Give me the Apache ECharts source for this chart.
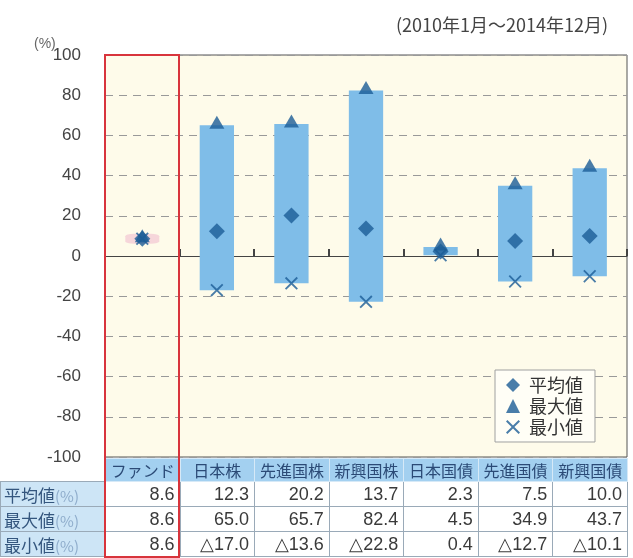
<!DOCTYPE html>
<html>
<head>
<meta charset="utf-8">
<script src="https://cdn.jsdelivr.net/npm/echarts@6/dist/echarts.min.js"></script>
<style>
  body { margin: 0; background: #fff; }
  #wrap { position: relative; width: 633px; height: 558px; }
  #chart { position: absolute; left: 0; top: 0; width: 633px; height: 558px; }
  #tbl { position: absolute; left: 0; top: 458px; width: 627px; border-collapse: collapse; table-layout: fixed;
         font-family: "Noto Sans CJK JP", sans-serif; }
  #tbl td { padding: 0; overflow: hidden; white-space: nowrap; line-height: 1; }
  #tbl tr.head td { height: 22px; background: #a3d0f0; color: #2b4a76; font-size: 16px; text-align: center; border: 1px solid #d6e9f7; }
  #tbl tr.head td.blank { background: transparent; border: none; }
  #tbl tr.row td { height: 24px; }
  #tbl td.lbl { background: #cde5f6; color: #34567e; font-size: 17px; padding-left: 3px; border: 1px solid #9aaab8; }
  #tbl td.lbl span { color: #8eaccb; font-size: 15px; }
  #tbl td.val { background: #fff; color: #3a3a3a; font-size: 18px; text-align: right; padding-right: 5px;
                font-family: "Liberation Sans", sans-serif; border: 1px solid #9aaab8; }
  #redbox { position: absolute; left: 104px; top: 54px; width: 72px; height: 500px; border: 2px solid #d8343c; pointer-events: none; }
</style>
</head>
<body>
<div id="wrap">
  <div id="chart"></div>
  <table id="tbl"></table>
  <div id="redbox"></div>
</div>
<script>
const categories = ['ファンド', '日本株', '先進国株', '新興国株', '日本国債', '先進国債', '新興国債'];
const avgValues = [8.6, 12.3, 20.2, 13.7, 2.3, 7.5, 10.0];
const maxValues = [8.6, 65.0, 65.7, 82.4, 4.5, 34.9, 43.7];
const minValues = [8.6, -17.0, -13.6, -22.8, 0.4, -12.7, -10.1];
const rowNames = ['平均値', '最大値', '最小値'];

const markColor = '#1c5c96';
const xPath = 'path://M0,2 L2,0 L10,8 L18,0 L20,2 L12,10 L20,18 L18,20 L10,12 L2,20 L0,18 L8,10 Z';

const fmt = (v) => v < 0 ? '△' + Math.abs(v).toFixed(1) : v.toFixed(1);

// table under the chart
let html = '<colgroup><col style="width:105px">' + categories.map(() => '<col style="width:74.57px">').join('') + '</colgroup>';
html += '<tr class="head"><td class="blank"></td>' + categories.map(c => '<td>' + c + '</td>').join('') + '</tr>';
[avgValues, maxValues, minValues].forEach((arr, r) => {
  html += '<tr class="row"><td class="lbl">' + rowNames[r] + '<span>(%)</span></td>' + arr.map(v => '<td class="val">' + fmt(v) + '</td>').join('') + '</tr>';
});
document.getElementById('tbl').innerHTML = html;

let chart = echarts.init(document.getElementById('chart'));

let option = {
  animation: false,
  title: {
    text: '(2010年1月～2014年12月)',
    right: 20,
    top: 11,
    textStyle: { fontSize: 18, fontWeight: 'normal', color: '#444', fontFamily: 'Noto Sans CJK JP' }
  },
  graphic: [{
    type: 'text', left: 34, top: 37,
    style: { text: '(%)', fontSize: 14, fill: '#666', fontFamily: 'Liberation Sans' }
  }],
  legend: {
    data: ['平均値', '最大値', '最小値'],
    orient: 'vertical',
    left: 495,
    top: 370,
    padding: [6, 12, 6, 11],
    itemGap: 3,
    itemWidth: 14,
    itemHeight: 14,
    backgroundColor: '#fffef6',
    borderColor: '#a0a0a0',
    borderWidth: 1,
    textStyle: { fontSize: 18, color: '#333', fontFamily: 'Noto Sans CJK JP', padding: [0, 0, 0, 4] }
  },
  grid: {
    left: 105,
    right: 6,
    top: 55,
    height: 402,
    show: true,
    backgroundColor: '#fefbea',
    borderColor: '#555',
    borderWidth: 1
  },
  xAxis: {
    type: 'category',
    data: categories,
    axisLine: { onZero: true, lineStyle: { color: '#444', width: 1 } },
    axisTick: { show: true, inside: true, length: 7, lineStyle: { color: '#444', width: 2 } },
    axisLabel: { show: false }
  },
  yAxis: {
    type: 'value',
    min: -100,
    max: 100,
    interval: 20,
    axisLine: { show: false },
    axisTick: { show: false },
    axisLabel: { fontSize: 17, color: '#444', margin: 24, fontFamily: 'Liberation Sans' },
    splitLine: { lineStyle: { color: '#999', type: [8, 6], width: 1 } }
  },
  series: [
    {
      name: 'range',
      type: 'custom',
      renderItem: (params, api) => {
        const x = api.value(0);
        const lo = api.coord([x, api.value(1)]);
        const hi = api.coord([x, api.value(2)]);
        const w = api.size([1, 0])[0] * 0.46;
        return {
          type: 'rect',
          shape: { x: lo[0] - w / 2, y: hi[1], width: w, height: lo[1] - hi[1] },
          style: { fill: '#7fbde8' }
        };
      },
      data: categories.map((c, i) => [i, minValues[i], maxValues[i]]),
      z: 2
    },
    {
      name: 'fund',
      type: 'scatter',
      symbol: 'roundRect',
      symbolSize: [34, 10],
      itemStyle: { color: '#f4cdd6', opacity: 0.8 },
      data: [[0, avgValues[0]]],
      z: 3
    },
    {
      name: '平均値',
      type: 'scatter',
      symbol: 'diamond',
      symbolSize: 16,
      itemStyle: { color: markColor },
      data: avgValues.map((v, i) => [i, v]),
      z: 5
    },
    {
      name: '最大値',
      type: 'scatter',
      symbol: 'triangle',
      symbolSize: [15, 13],
      symbolOffset: [0, -3],
      itemStyle: { color: markColor },
      data: maxValues.map((v, i) => [i, v]),
      z: 5
    },
    {
      name: '最小値',
      type: 'scatter',
      symbol: xPath,
      symbolSize: 13,
      itemStyle: { color: markColor },
      data: minValues.map((v, i) => [i, v]),
      z: 5
    }
  ]
};

chart.setOption(option);
</script>
</body>
</html>
